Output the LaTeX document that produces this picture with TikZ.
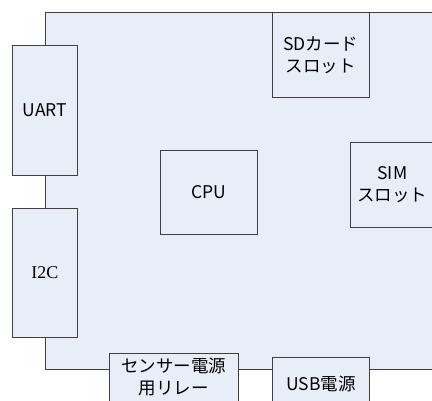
\documentclass[tikz,border=0pt]{standalone}
\usepackage{fontspec}
\setmainfont{Noto Sans CJK JP}
\newfontfamily\serifi{Liberation Serif}
\definecolor{boardfill}{RGB}{232,238,248}
\definecolor{edge}{RGB}{64,64,64}
\tikzset{
  part/.style={draw=edge,fill=boardfill,line width=0.9pt,inner sep=0pt,
    font=\fontsize{17.5}{22}\selectfont,align=center},
}
\begin{document}
\begin{tikzpicture}[x=1pt,y=-1pt]
\useasboundingbox (0,0) rectangle (432,401);
\clip (0,0) rectangle (432,401);
\fill[white] (0,0) rectangle (432,401);
\node[part,minimum width=400pt,minimum height=357.5pt,anchor=north west] (board) at (44.5,12) {};
\node[part,minimum width=65pt,minimum height=130pt,anchor=north west] (uart) at (12,45) {UART};
\node[part,minimum width=65pt,minimum height=129pt,anchor=north west,font=\serifi\fontsize{18}{22}\selectfont] (i2c) at (12,208) {I2C};
\node[part,minimum width=97pt,minimum height=85pt,anchor=north west] (sd) at (272,12) {SDカード\\スロット};
\node[part,minimum width=97pt,minimum height=84pt,anchor=north west] (cpu) at (160,150) {CPU};
\node[part,minimum width=84pt,minimum height=85pt,anchor=north west] (sim) at (350,142) {SIM\\スロット};
\node[part,minimum width=129pt,minimum height=48pt,anchor=north west] (relay) at (109,353) {センサー電源\\用リレー};
\node[part,minimum width=97pt,minimum height=52pt,anchor=north west] (usb) at (272,357) {USB電源};
\end{tikzpicture}
\end{document}
